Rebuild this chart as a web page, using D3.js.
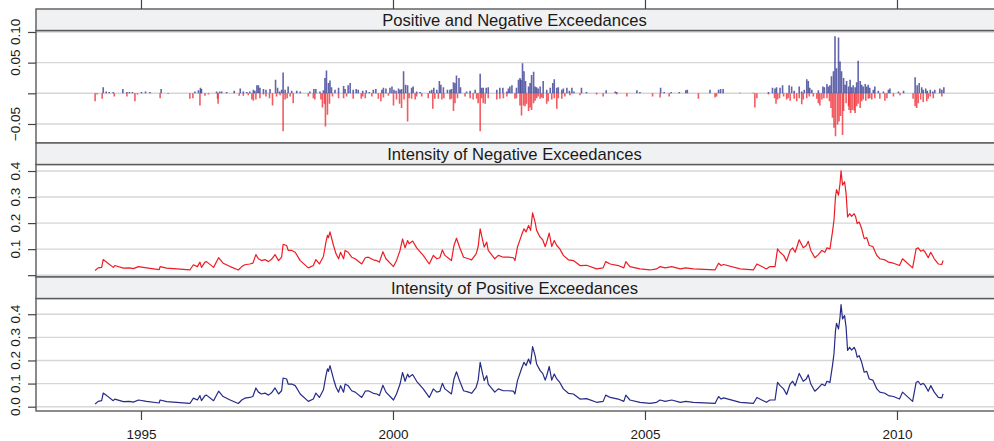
<!DOCTYPE html>
<html>
<head>
<meta charset="utf-8">
<script src="https://cdn.jsdelivr.net/npm/d3@7"></script>
<style>
body { margin: 0; background: #fff; }
svg { font-family: 'Liberation Sans', Arial, Helvetica, sans-serif; }
.strip rect { fill: #f0f1f2; stroke: #5a5a5a; stroke-width: 1.4px; }
.strip text { font-size: 16.6px; fill: #1a1a1a; }
.box { fill: none; stroke: #5a5a5a; stroke-width: 1.4px; }
.grid line { stroke: #d6d6d6; stroke-width: 1.4px; }
.axis path { display: none; }
.axis line { stroke: #444; stroke-width: 1.2px; }
.axis text, .ylab { font-size: 13.5px; fill: #1a1a1a; }
</style>
</head>
<body>
<svg id="chart" width="994" height="441"></svg>
<script>
// exceedances (decimal year, return)
var posExceed = [
  [1994.25,0.010],[1994.31,0.003],[1994.37,0.002],[1994.45,0.002],[1994.64,0.007],[1994.72,0.002],[1994.77,0.002],[1994.83,0.002],
  [1995.01,0.002],[1995.09,0.003],[1995.18,0.002],[1995.40,0.007],
  [1996.07,0.003],[1996.14,0.005],[1996.18,0.009],[1996.20,0.007],[1996.50,0.003],[1996.56,0.003],[1996.60,0.003],[1996.70,0.002],[1996.85,0.004],[1996.97,0.008],
  [1997.03,0.003],[1997.10,0.002],[1997.16,0.003],[1997.23,0.006],[1997.26,0.004],[1997.30,0.013],[1997.33,0.013],[1997.36,0.009],[1997.43,0.007],[1997.48,0.006],[1997.56,0.007],[1997.67,0.022],[1997.71,0.009],[1997.75,0.003],[1997.79,0.006],[1997.82,0.034],[1997.86,0.006],[1997.92,0.011],[1997.99,0.004],
  [1998.09,0.004],[1998.16,0.003],[1998.35,0.003],[1998.43,0.007],[1998.47,0.007],[1998.55,0.003],[1998.62,0.005],[1998.65,0.025],[1998.68,0.037],[1998.72,0.017],[1998.75,0.021],[1998.78,0.010],[1998.85,0.006],[1998.92,0.009],
  [1999.02,0.012],[1999.05,0.007],[1999.11,0.013],[1999.15,0.017],[1999.21,0.006],[1999.27,0.007],[1999.31,0.006],[1999.40,0.004],[1999.47,0.005],[1999.53,0.002],
  [1999.61,0.006],[1999.66,0.007],[1999.78,0.006],[1999.81,0.009],[1999.86,0.008],[1999.94,0.009],[1999.98,0.011],
  [2000.02,0.006],[2000.06,0.004],[2000.11,0.008],[2000.14,0.006],[2000.17,0.007],[2000.21,0.036],[2000.25,0.014],[2000.29,0.013],[2000.37,0.009],[2000.40,0.011],[2000.47,0.003],[2000.54,0.002],[2000.73,0.004],[2000.77,0.006],[2000.81,0.009],[2000.87,0.006],[2000.92,0.020],[2000.95,0.014],
  [2001.00,0.010],[2001.08,0.006],[2001.13,0.006],[2001.16,0.007],[2001.20,0.018],[2001.23,0.017],[2001.26,0.029],[2001.31,0.025],[2001.34,0.010],[2001.46,0.003],[2001.53,0.004],[2001.63,0.006],[2001.73,0.032],[2001.76,0.009],[2001.79,0.009],[2001.85,0.009],[2001.89,0.010],
  [2002.06,0.006],[2002.12,0.009],[2002.18,0.009],[2002.26,0.003],[2002.29,0.008],[2002.32,0.011],[2002.36,0.013],[2002.45,0.009],[2002.49,0.022],[2002.52,0.025],[2002.54,0.022],[2002.57,0.049],[2002.60,0.036],[2002.63,0.020],[2002.69,0.011],[2002.72,0.017],[2002.75,0.030],[2002.79,0.035],[2002.82,0.011],[2002.85,0.010],[2002.88,0.008],[2002.92,0.011],[2002.98,0.020],
  [2003.05,0.006],[2003.12,0.009],[2003.17,0.017],[2003.20,0.023],[2003.25,0.009],[2003.28,0.010],[2003.35,0.006],[2003.38,0.008],[2003.45,0.009],[2003.50,0.004],[2003.55,0.009],[2003.59,0.003],[2003.74,0.009],[2003.84,0.002],
  [2004.04,0.001],[2004.23,0.005],[2004.41,0.003],[2004.44,0.002],[2004.84,0.005],
  [2004.90,0.002],[2005.31,0.009],[2005.38,0.002],[2005.52,0.002],[2005.68,0.002],[2005.81,0.005],[2005.84,0.006],
  [2006.29,0.006],[2006.46,0.006],[2006.50,0.007],[2006.55,0.007],[2006.89,0.001],
  [2007.15,0.001],[2007.45,0.002],[2007.53,0.009],[2007.58,0.008],[2007.61,0.010],[2007.68,0.009],[2007.73,0.013],[2007.86,0.013],[2007.91,0.011],[2007.96,0.004],
  [2008.06,0.011],[2008.11,0.003],[2008.16,0.006],[2008.21,0.023],[2008.24,0.020],[2008.27,0.009],[2008.31,0.006],[2008.44,0.005],[2008.53,0.011],[2008.56,0.010],[2008.61,0.015],[2008.64,0.011],[2008.67,0.013],[2008.70,0.028],[2008.74,0.036],[2008.77,0.093],[2008.80,0.041],[2008.84,0.091],[2008.87,0.052],[2008.90,0.036],[2008.94,0.025],[2008.97,0.014],
  [2009.00,0.020],[2009.04,0.011],[2009.07,0.022],[2009.10,0.010],[2009.13,0.013],[2009.17,0.010],[2009.20,0.018],[2009.23,0.053],[2009.27,0.020],[2009.30,0.014],[2009.33,0.011],[2009.37,0.015],[2009.40,0.011],[2009.43,0.014],[2009.46,0.009],[2009.53,0.006],[2009.56,0.011],[2009.63,0.004],[2009.73,0.003],[2009.83,0.006],[2009.86,0.008],
  [2010.03,0.003],[2010.13,0.004],[2010.36,0.026],[2010.40,0.013],[2010.44,0.017],[2010.49,0.010],[2010.52,0.006],[2010.57,0.008],[2010.60,0.004],[2010.66,0.006],[2010.71,0.003],[2010.75,0.006],[2010.85,0.008],[2010.89,0.006],[2010.93,0.010]
];

var negExceed = [
  [1994.09,-0.013],[1994.13,-0.002],[1994.23,-0.009],[1994.47,-0.005],[1994.72,-0.005],[1994.88,-0.013],[1994.93,-0.002],
  [1995.38,-0.008],[1995.54,-0.001],[1995.97,-0.009],
  [1996.03,-0.008],[1996.17,-0.020],[1996.27,-0.004],[1996.34,-0.002],[1996.52,-0.009],[1996.53,-0.017],[1996.95,-0.004],
  [1997.03,-0.004],[1997.13,-0.003],[1997.20,-0.010],[1997.23,-0.012],[1997.28,-0.010],[1997.36,-0.008],[1997.43,-0.002],[1997.48,-0.005],[1997.55,-0.008],[1997.61,-0.020],[1997.69,-0.005],[1997.76,-0.003],[1997.82,-0.062],[1997.86,-0.010],[1997.90,-0.008],[1997.96,-0.005],
  [1998.02,-0.016],[1998.32,-0.005],[1998.42,-0.008],[1998.45,-0.010],[1998.57,-0.010],[1998.60,-0.023],[1998.64,-0.017],[1998.66,-0.054],[1998.70,-0.035],[1998.74,-0.017],[1998.80,-0.005],[1998.92,-0.008],
  [1999.02,-0.008],[1999.08,-0.005],[1999.21,-0.009],[1999.37,-0.009],[1999.40,-0.005],[1999.45,-0.008],
  [1999.58,-0.005],[1999.71,-0.009],[1999.76,-0.013],[1999.81,-0.007],[1999.91,-0.004],
  [2000.01,-0.020],[2000.07,-0.010],[2000.13,-0.017],[2000.17,-0.024],[2000.22,-0.010],[2000.29,-0.046],[2000.32,-0.008],[2000.37,-0.009],[2000.44,-0.010],[2000.47,-0.005],[2000.57,-0.005],[2000.70,-0.008],[2000.79,-0.025],[2000.83,-0.009],[2000.90,-0.009],[2000.97,-0.010],
  [2001.01,-0.008],[2001.13,-0.010],[2001.16,-0.009],[2001.20,-0.029],[2001.23,-0.016],[2001.28,-0.008],[2001.43,-0.005],[2001.53,-0.008],[2001.59,-0.010],[2001.66,-0.009],[2001.69,-0.016],[2001.73,-0.062],[2001.76,-0.008],[2001.79,-0.016],[2001.83,-0.017],[2001.89,-0.008],
  [2002.06,-0.010],[2002.12,-0.009],[2002.19,-0.008],[2002.26,-0.005],[2002.42,-0.009],[2002.45,-0.008],[2002.52,-0.020],[2002.55,-0.036],[2002.59,-0.020],[2002.62,-0.021],[2002.65,-0.017],[2002.69,-0.029],[2002.72,-0.023],[2002.75,-0.027],[2002.79,-0.016],[2002.82,-0.012],[2002.85,-0.008],[2002.88,-0.005],[2002.92,-0.009],[2002.95,-0.007],[2002.98,-0.008],
  [2003.05,-0.017],[2003.08,-0.013],[2003.15,-0.010],[2003.20,-0.008],[2003.25,-0.025],[2003.28,-0.008],[2003.35,-0.009],[2003.41,-0.005],[2003.51,-0.003],[2003.71,-0.003],
  [2004.04,-0.002],[2004.17,-0.005],[2004.44,-0.002],[2004.64,-0.005],
  [2005.15,-0.005],[2005.30,-0.007],[2005.48,-0.005],[2006.06,-0.009],[2006.39,-0.007],[2006.42,-0.005],
  [2007.18,-0.023],[2007.22,-0.008],[2007.45,-0.002],[2007.57,-0.008],[2007.60,-0.017],[2007.63,-0.010],[2007.67,-0.008],[2007.75,-0.005],[2007.81,-0.010],[2007.84,-0.008],[2007.88,-0.012],[2007.96,-0.009],
  [2008.01,-0.013],[2008.06,-0.008],[2008.11,-0.018],[2008.14,-0.010],[2008.21,-0.008],[2008.26,-0.005],[2008.34,-0.005],[2008.41,-0.009],[2008.44,-0.016],[2008.47,-0.020],[2008.51,-0.010],[2008.55,-0.008],[2008.61,-0.008],[2008.66,-0.013],[2008.69,-0.024],[2008.72,-0.040],[2008.75,-0.056],[2008.78,-0.070],[2008.82,-0.051],[2008.85,-0.046],[2008.88,-0.037],[2008.92,-0.068],[2008.94,-0.029],[2008.99,-0.016],
  [2009.04,-0.021],[2009.05,-0.027],[2009.08,-0.032],[2009.11,-0.027],[2009.15,-0.028],[2009.17,-0.032],[2009.20,-0.021],[2009.23,-0.017],[2009.27,-0.024],[2009.30,-0.013],[2009.33,-0.010],[2009.38,-0.012],[2009.43,-0.009],[2009.46,-0.008],[2009.50,-0.010],[2009.56,-0.008],[2009.66,-0.009],[2009.76,-0.012],[2009.80,-0.008],[2009.93,-0.005],
  [2010.06,-0.003],[2010.32,-0.009],[2010.36,-0.021],[2010.39,-0.024],[2010.42,-0.016],[2010.47,-0.010],[2010.52,-0.014],[2010.59,-0.013],[2010.62,-0.009],[2010.66,-0.005],[2010.72,-0.008],[2010.89,-0.005]
];

// intensities (decimal year, value)
var negIntensity = [
  [1994.09,0.018],[1994.15,0.028],[1994.22,0.030],[1994.25,0.060],[1994.32,0.050],[1994.45,0.030],[1994.48,0.037],[1994.65,0.027],[1994.77,0.028],[1994.85,0.025],[1994.95,0.033],
  [1995.11,0.028],[1995.36,0.021],[1995.38,0.033],[1995.51,0.027],[1995.97,0.020],
  [1996.04,0.040],[1996.12,0.033],[1996.17,0.050],[1996.20,0.030],[1996.27,0.050],[1996.30,0.052],[1996.44,0.030],[1996.54,0.067],[1996.63,0.046],[1996.77,0.033],[1996.93,0.020],
  [1997.00,0.033],[1997.06,0.040],[1997.16,0.043],[1997.22,0.046],[1997.28,0.079],[1997.33,0.063],[1997.39,0.056],[1997.46,0.060],[1997.53,0.052],[1997.59,0.061],[1997.66,0.079],[1997.73,0.056],[1997.79,0.069],[1997.82,0.118],[1997.89,0.114],[1997.92,0.095],[1997.99,0.095],
  [1998.06,0.088],[1998.16,0.056],[1998.32,0.028],[1998.42,0.037],[1998.47,0.060],[1998.54,0.043],[1998.62,0.072],[1998.67,0.127],[1998.70,0.153],[1998.72,0.144],[1998.75,0.166],[1998.82,0.114],[1998.87,0.082],[1998.92,0.063],[1998.96,0.088],
  [1999.02,0.063],[1999.05,0.095],[1999.11,0.088],[1999.18,0.069],[1999.25,0.063],[1999.38,0.043],[1999.45,0.067],[1999.51,0.069],[1999.61,0.059],[1999.68,0.056],[1999.73,0.050],[1999.80,0.090],[1999.86,0.063],
  [2000.01,0.033],[2000.07,0.056],[2000.14,0.095],[2000.19,0.139],[2000.24,0.105],[2000.29,0.133],[2000.32,0.121],[2000.39,0.131],[2000.47,0.105],[2000.60,0.076],[2000.72,0.043],[2000.80,0.076],[2000.87,0.063],[2000.93,0.067],[2000.98,0.097],
  [2001.03,0.076],[2001.16,0.056],[2001.21,0.114],[2001.26,0.142],[2001.32,0.108],[2001.40,0.069],[2001.50,0.063],[2001.56,0.059],[2001.65,0.082],[2001.69,0.110],[2001.73,0.178],[2001.78,0.133],[2001.81,0.108],[2001.86,0.127],[2001.89,0.095],
  [2002.02,0.063],[2002.09,0.076],[2002.19,0.069],[2002.29,0.069],[2002.39,0.067],[2002.42,0.056],[2002.47,0.108],[2002.55,0.153],[2002.60,0.178],[2002.64,0.166],[2002.69,0.191],[2002.73,0.172],[2002.77,0.239],[2002.82,0.204],[2002.85,0.172],[2002.92,0.146],[2002.97,0.136],
  [2003.02,0.110],[2003.05,0.127],[2003.10,0.162],[2003.15,0.110],[2003.20,0.133],[2003.25,0.114],[2003.31,0.101],[2003.38,0.076],[2003.48,0.059],[2003.58,0.056],[2003.71,0.037],[2003.84,0.038],
  [2004.04,0.024],[2004.17,0.028],[2004.22,0.052],[2004.31,0.043],[2004.47,0.037],[2004.58,0.028],[2004.62,0.052],[2004.70,0.033],[2004.90,0.024],
  [2005.10,0.020],[2005.23,0.024],[2005.30,0.033],[2005.40,0.028],[2005.53,0.033],[2005.70,0.024],[2005.81,0.028],[2005.96,0.024],
  [2006.39,0.020],[2006.46,0.046],[2006.51,0.037],[2006.56,0.041],[2006.89,0.024],
  [2007.15,0.020],[2007.22,0.043],[2007.41,0.024],[2007.48,0.033],[2007.58,0.033],[2007.63,0.101],[2007.68,0.088],[2007.75,0.076],[2007.81,0.054],[2007.88,0.095],[2007.93,0.105],[2007.98,0.088],
  [2008.06,0.136],[2008.14,0.105],[2008.20,0.114],[2008.24,0.130],[2008.29,0.095],[2008.37,0.067],[2008.44,0.079],[2008.51,0.095],[2008.57,0.088],[2008.61,0.105],[2008.67,0.101],[2008.72,0.166],[2008.75,0.211],[2008.78,0.301],[2008.80,0.329],[2008.84,0.307],[2008.87,0.352],[2008.89,0.401],[2008.92,0.346],[2008.96,0.359],[2008.99,0.314],
  [2009.02,0.224],[2009.06,0.236],[2009.10,0.226],[2009.15,0.236],[2009.18,0.224],[2009.21,0.198],[2009.25,0.204],[2009.30,0.178],[2009.35,0.140],[2009.40,0.144],[2009.45,0.114],[2009.52,0.110],[2009.60,0.076],[2009.66,0.063],[2009.76,0.059],[2009.83,0.050],[2009.93,0.046],
  [2010.05,0.037],[2010.11,0.063],[2010.31,0.028],[2010.38,0.101],[2010.42,0.105],[2010.47,0.092],[2010.52,0.097],[2010.56,0.088],[2010.62,0.067],[2010.67,0.088],[2010.74,0.063],[2010.82,0.043],[2010.89,0.041],[2010.91,0.054],[2010.92,0.056]
];

var posIntensity = [
  [1994.09,0.012],[1994.15,0.023],[1994.22,0.026],[1994.25,0.059],[1994.32,0.048],[1994.45,0.026],[1994.48,0.033],[1994.65,0.022],[1994.77,0.023],[1994.85,0.020],[1994.95,0.029],
  [1995.11,0.023],[1995.36,0.016],[1995.38,0.029],[1995.51,0.022],[1995.97,0.014],
  [1996.04,0.037],[1996.12,0.029],[1996.17,0.048],[1996.20,0.026],[1996.27,0.048],[1996.30,0.050],[1996.44,0.026],[1996.54,0.067],[1996.63,0.044],[1996.77,0.029],[1996.93,0.014],
  [1997.00,0.029],[1997.06,0.037],[1997.16,0.040],[1997.22,0.044],[1997.28,0.081],[1997.33,0.063],[1997.39,0.055],[1997.46,0.059],[1997.53,0.050],[1997.59,0.060],[1997.66,0.081],[1997.73,0.055],[1997.79,0.069],[1997.82,0.124],[1997.89,0.120],[1997.92,0.098],[1997.99,0.098],
  [1998.06,0.091],[1998.16,0.055],[1998.32,0.023],[1998.42,0.033],[1998.47,0.059],[1998.54,0.040],[1998.62,0.073],[1998.67,0.134],[1998.70,0.164],[1998.72,0.153],[1998.75,0.178],[1998.82,0.120],[1998.87,0.084],[1998.92,0.063],[1998.96,0.091],
  [1999.02,0.063],[1999.05,0.098],[1999.11,0.091],[1999.18,0.069],[1999.25,0.063],[1999.38,0.040],[1999.45,0.067],[1999.51,0.069],[1999.61,0.058],[1999.68,0.055],[1999.73,0.048],[1999.80,0.093],[1999.86,0.063],
  [2000.01,0.029],[2000.07,0.055],[2000.14,0.098],[2000.19,0.148],[2000.24,0.110],[2000.29,0.141],[2000.32,0.128],[2000.39,0.139],[2000.47,0.110],[2000.60,0.077],[2000.72,0.040],[2000.80,0.077],[2000.87,0.063],[2000.93,0.067],[2000.98,0.101],
  [2001.03,0.077],[2001.16,0.055],[2001.21,0.120],[2001.26,0.151],[2001.32,0.113],[2001.40,0.069],[2001.50,0.063],[2001.56,0.058],[2001.65,0.084],[2001.69,0.115],[2001.73,0.192],[2001.78,0.141],[2001.81,0.113],[2001.86,0.134],[2001.89,0.098],
  [2002.02,0.063],[2002.09,0.077],[2002.19,0.069],[2002.29,0.069],[2002.39,0.067],[2002.42,0.055],[2002.47,0.113],[2002.55,0.164],[2002.60,0.192],[2002.64,0.178],[2002.69,0.206],[2002.73,0.185],[2002.77,0.260],[2002.82,0.221],[2002.85,0.185],[2002.92,0.156],[2002.97,0.144],
  [2003.02,0.115],[2003.05,0.134],[2003.10,0.174],[2003.15,0.115],[2003.20,0.141],[2003.25,0.120],[2003.31,0.105],[2003.38,0.077],[2003.48,0.058],[2003.58,0.055],[2003.71,0.033],[2003.84,0.035],
  [2004.04,0.019],[2004.17,0.023],[2004.22,0.050],[2004.31,0.040],[2004.47,0.033],[2004.58,0.023],[2004.62,0.050],[2004.70,0.029],[2004.90,0.019],
  [2005.10,0.014],[2005.23,0.019],[2005.30,0.029],[2005.40,0.023],[2005.53,0.029],[2005.70,0.019],[2005.81,0.023],[2005.96,0.019],
  [2006.39,0.014],[2006.46,0.044],[2006.51,0.033],[2006.56,0.038],[2006.89,0.019],
  [2007.15,0.014],[2007.22,0.040],[2007.41,0.019],[2007.48,0.029],[2007.58,0.029],[2007.63,0.105],[2007.68,0.091],[2007.75,0.077],[2007.81,0.053],[2007.88,0.098],[2007.93,0.110],[2007.98,0.091],
  [2008.06,0.144],[2008.14,0.110],[2008.20,0.120],[2008.24,0.138],[2008.29,0.098],[2008.37,0.067],[2008.44,0.081],[2008.51,0.098],[2008.57,0.091],[2008.61,0.110],[2008.67,0.105],[2008.72,0.178],[2008.75,0.229],[2008.78,0.329],[2008.80,0.361],[2008.84,0.336],[2008.87,0.387],[2008.89,0.442],[2008.92,0.380],[2008.96,0.394],[2008.99,0.344],
  [2009.02,0.243],[2009.06,0.257],[2009.10,0.245],[2009.15,0.257],[2009.18,0.243],[2009.21,0.214],[2009.25,0.221],[2009.30,0.192],[2009.35,0.149],[2009.40,0.153],[2009.45,0.120],[2009.52,0.115],[2009.60,0.077],[2009.66,0.063],[2009.76,0.058],[2009.83,0.048],[2009.93,0.044],
  [2010.05,0.033],[2010.11,0.063],[2010.31,0.023],[2010.38,0.105],[2010.42,0.110],[2010.47,0.095],[2010.52,0.101],[2010.56,0.091],[2010.62,0.067],[2010.67,0.091],[2010.74,0.063],[2010.82,0.040],[2010.89,0.038],[2010.91,0.053],[2010.92,0.055]
];

var yearTicks = [1995, 2000, 2005, 2010];
var red = '#ed1c24', blue = '#262a88';

var frame = { left: 36, right: 995, top: 9, stripH: 21.5, panelH: 112.5 };

var panels = [
  { title: 'Positive and Negative Exceedances', domain: [-0.081, 0.1024],
    ticks: [-0.05, 0, 0.05, 0.10], labels: { '-0.05': '\u22120.05', '0.05': '0.05', '0.1': '0.10' } },
  { title: 'Intensity of Negative Exceedances', domain: [-0.007, 0.425],
    ticks: [0, 0.1, 0.2, 0.3, 0.4], labels: { '0.1': '0.1', '0.2': '0.2', '0.3': '0.3', '0.4': '0.4' } },
  { title: 'Intensity of Positive Exceedances', domain: [-0.0186, 0.468],
    ticks: [0, 0.1, 0.2, 0.3, 0.4], labels: { '0': '0.0', '0.1': '0.1', '0.2': '0.2', '0.3': '0.3', '0.4': '0.4' } }
];

var svg = d3.select('#chart');
var x = d3.scaleLinear().domain([1992.917, 1992.917 + (frame.right - frame.left) / 50.4])
  .range([frame.left, frame.right]);

panels.forEach((p, i) => {
  var top = frame.top + i * (frame.stripH + frame.panelH);
  var pTop = top + frame.stripH, pBot = pTop + frame.panelH;
  var y = d3.scaleLinear().domain(p.domain).range([pBot, pTop]);
  var g = svg.append('g');

  g.append('g').attr('class', 'grid').selectAll('line').data(p.ticks).join('line')
    .attr('x1', frame.left).attr('x2', frame.right)
    .attr('y1', d => y(d)).attr('y2', d => y(d));

  var clip = 'clip' + i;
  g.append('clipPath').attr('id', clip).append('rect')
    .attr('x', frame.left).attr('y', pTop).attr('width', frame.right - frame.left).attr('height', frame.panelH);
  var plot = g.append('g').attr('clip-path', 'url(#' + clip + ')');

  if (i == 0) {
    [[negExceed, red], [posExceed, blue]].forEach(s =>
      plot.append('g').selectAll('line').data(s[0]).join('line')
        .attr('x1', d => x(d[0])).attr('x2', d => x(d[0]))
        .attr('y1', y(0)).attr('y2', d => y(d[1]))
        .attr('stroke', s[1]).attr('stroke-width', 1.6).attr('stroke-opacity', 0.72));
  } else {
    var data = i == 1 ? negIntensity : posIntensity;
    plot.append('path').datum(data)
      .attr('fill', 'none').attr('stroke', i == 1 ? red : blue).attr('stroke-width', 1.2)
      .attr('stroke-linejoin', 'round')
      .attr('d', d3.line().x(d => x(d[0])).y(d => y(d[1])));
  }

  g.append('rect').attr('class', 'box')
    .attr('x', frame.left).attr('y', pTop).attr('width', frame.right - frame.left).attr('height', frame.panelH);

  var strip = g.append('g').attr('class', 'strip');
  strip.append('rect').attr('x', frame.left).attr('y', top)
    .attr('width', frame.right - frame.left).attr('height', frame.stripH);
  strip.append('text').attr('x', (frame.left + 993) / 2).attr('y', top + 16.5)
    .attr('text-anchor', 'middle').text(p.title);

  g.append('g').attr('class', 'axis').attr('transform', 'translate(' + frame.left + ',0)')
    .call(d3.axisLeft(y).tickValues(p.ticks).tickSize(8).tickFormat(''));

  g.selectAll('.ylab').data(p.ticks.filter(t => p.labels[String(t)])).join('text')
    .attr('class', 'ylab').attr('text-anchor', 'middle')
    .attr('transform', d => 'translate(20,' + y(d) + ') rotate(-90)')
    .text(d => p.labels[String(d)]);

  if (i == 0)
    g.append('g').attr('class', 'axis').attr('transform', 'translate(0,' + top + ')')
      .call(d3.axisTop(x).tickValues(yearTicks).tickSize(9).tickFormat(''));
  if (i == panels.length - 1)
    g.append('g').attr('class', 'axis').attr('transform', 'translate(0,' + pBot + ')')
      .call(d3.axisBottom(x).tickValues(yearTicks).tickSize(9).tickPadding(9).tickFormat(d3.format('d')));
});
</script>
</body>
</html>
